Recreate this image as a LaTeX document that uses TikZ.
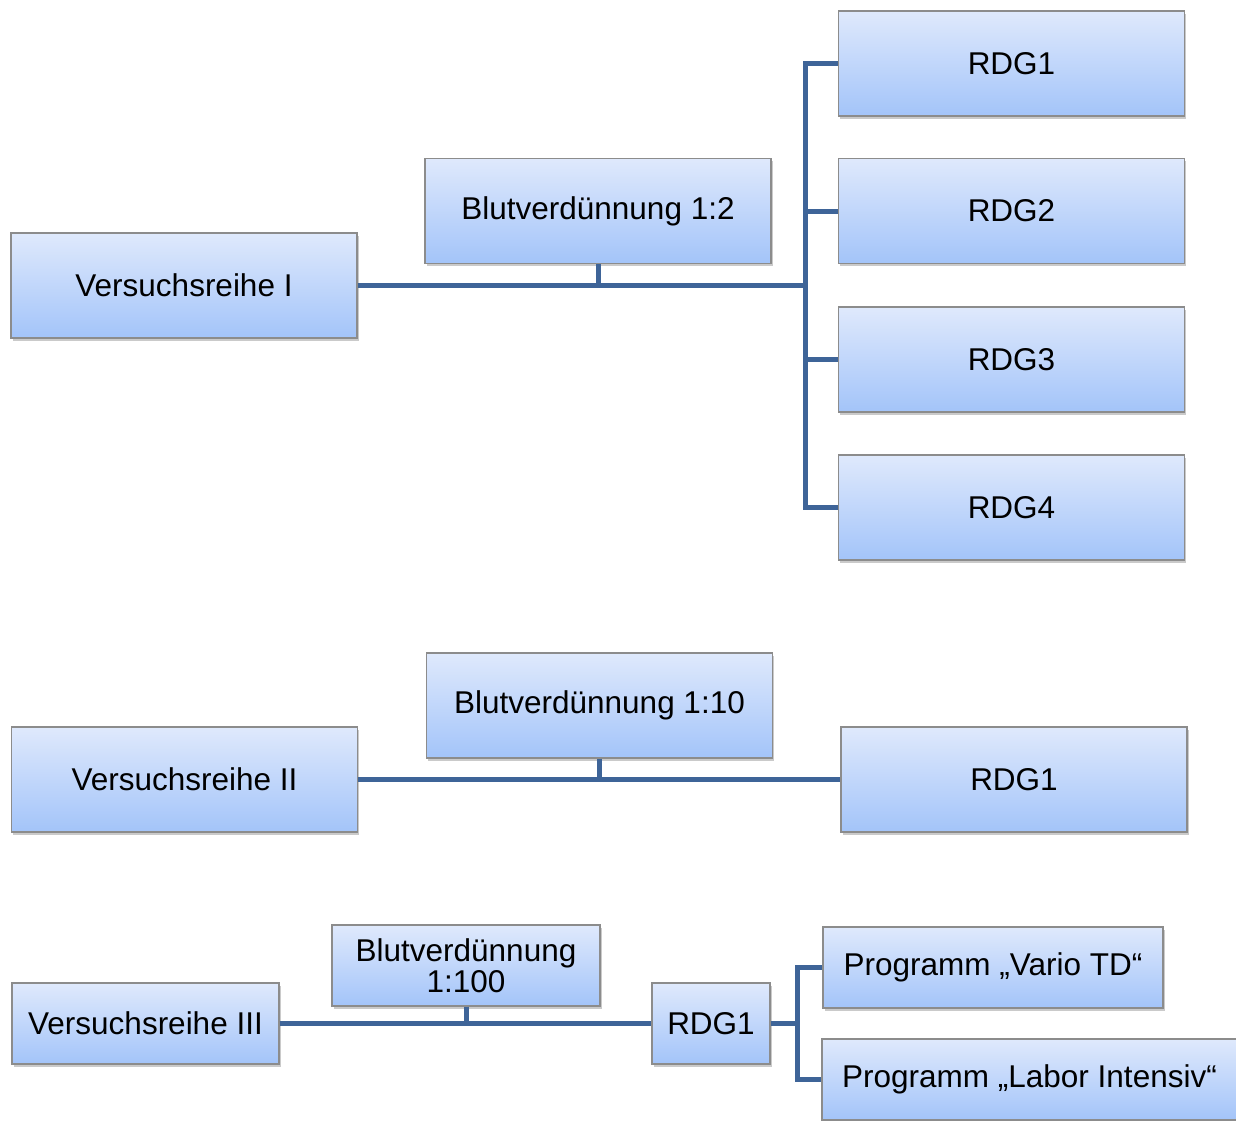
\documentclass[tikz,border=0pt]{standalone}
\usepackage{fontspec}
\setmainfont{Liberation Sans}
\usetikzlibrary{shadows}
\definecolor{conncol}{RGB}{62,100,152}
\definecolor{boxtop}{RGB}{223,233,252}
\definecolor{boxbot}{RGB}{163,196,249}
\definecolor{boxedge}{RGB}{140,140,140}
\begin{document}
\begin{tikzpicture}[x=1pt,y=-1pt,
  box/.style={draw=boxedge, line width=1.2pt, top color=boxtop, bottom color=boxbot,
    rectangle, inner sep=0pt, align=center, text=black,
    font=\fontsize{31.5}{33}\selectfont,
    drop shadow={shadow xshift=1.5pt, shadow yshift=-2.5pt, opacity=0.35, fill=black!60}},
  big/.style={box, minimum width=346pt, minimum height=105pt},
  small/.style={box, minimum height=81pt},
  conn/.style={draw=conncol, line width=5pt}]
\useasboundingbox (0,0) rectangle (1236,1120);
\clip (0,0) rectangle (1236,1120);
% Series I
\node[big] (vr1) at (184,285.5) {Versuchsreihe I};
\node[big] (bv1) at (598,211) {Blutverdünnung 1:2};
\node[big] (r1) at (1011.5,63.5) {RDG1};
\node[big] (r2) at (1011.5,211) {RDG2};
\node[big] (r3) at (1011.5,359.5) {RDG3};
\node[big] (r4) at (1011.5,507.5) {RDG4};
\coordinate (j1) at (805.5,285.5);
\draw[conn] (vr1.east) -- (j1);
\draw[conn] (bv1.south) -- (bv1.south |- j1);
\draw[conn] (r1.west) -- (r1.west -| j1) -- (r4.west -| j1) -- (r4.west);
\draw[conn] (r2.west -| j1) -- (r2.west);
\draw[conn] (r3.west -| j1) -- (r3.west);
% Series II
\node[big] (vr2) at (184.5,779.5) {Versuchsreihe II};
\node[big] (bv2) at (599.5,705.5) {Blutverdünnung 1:10};
\node[big] (r21) at (1014,779.5) {RDG1};
\draw[conn] (vr2.east) -- (r21.west);
\draw[conn] (bv2.south) -- (bv2.south |- vr2.east);
% Series III
\node[small, minimum width=267pt] (vr3) at (145.5,1023.5) {Versuchsreihe III};
\node[small, minimum width=268pt] (bv3) at (466,965.5) {Blutverdünnung\\[-2pt]1:100};
\node[small, minimum width=118pt] (r31) at (711,1023.5) {RDG1};
\node[small, minimum width=340pt] (p1) at (993,967.5) {Programm „Vario TD“};
\node[small, minimum width=415pt] (p2) at (1029.5,1079.5) {Programm „Labor Intensiv“};
\coordinate (j3) at (797,1023.5);
\draw[conn] (vr3.east) -- (r31.west);
\draw[conn] (bv3.south) -- (bv3.south |- vr3.east);
\draw[conn] (r31.east) -- (j3);
\draw[conn] (p1.west) -- (p1.west -| j3) -- (p2.west -| j3) -- (p2.west);
\end{tikzpicture}
\end{document}
